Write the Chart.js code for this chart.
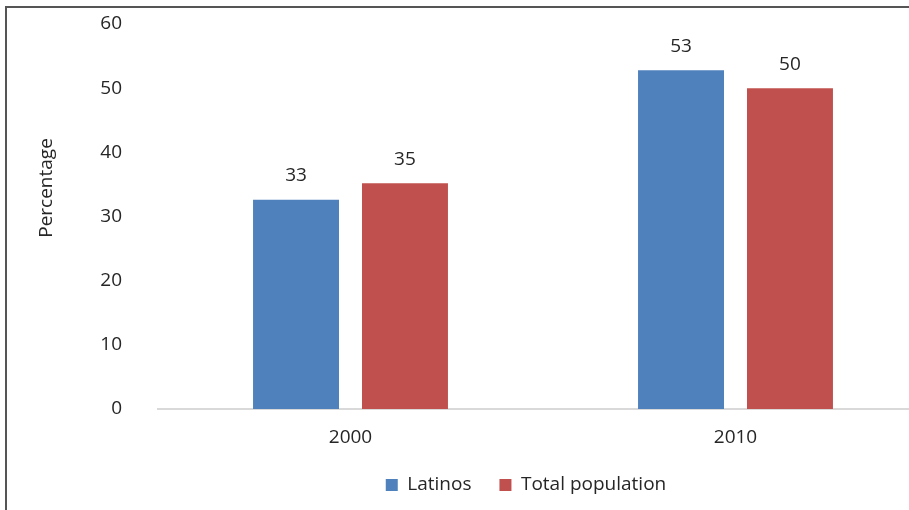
<!DOCTYPE html>
<html>
<head>
<meta charset="utf-8">
<script src="https://cdn.jsdelivr.net/npm/chart.js@4"></script>
<style>
  html, body { margin: 0; padding: 0; background: #fff; }
  #wrap { position: relative; width: 909px; height: 510px; overflow: hidden; }
  #frame { position: absolute; left: 5px; top: 6px; width: 1200px; height: 1200px;
           border-left: 2px solid #555; border-top: 2px solid #555; box-sizing: border-box; }
  #box { position: absolute; left: 0; top: 0; width: 960px; height: 510px; }
</style>
</head>
<body>
<div id="wrap">
  <div id="frame"></div>
  <div id="box"><canvas id="chart"></canvas></div>
</div>
<script>
// Chart data
const years = ['2000', '2010'];
const latinos = [32.6, 52.8];
const totalPopulation = [35.2, 50.0];
const yTicks = [0, 10, 20, 30, 40, 50, 60];
const yTitle = 'Percentage';

const FONT = '"Open Sans", "Noto Sans", sans-serif';
const TEXT = '#262626';

// Value labels above each bar + the y title (sits above the axis centre in the original)
const extraText = {
  id: 'extraText',
  afterDatasetsDraw(chart) {
    const ctx = chart.ctx;
    ctx.save();
    ctx.font = '19px ' + FONT;
    ctx.fillStyle = TEXT;
    ctx.textAlign = 'center';
    ctx.textBaseline = 'middle';
    chart.data.datasets.forEach((ds, i) => {
      chart.getDatasetMeta(i).data.forEach((bar, j) => {
        ctx.fillText(Math.round(ds.data[j]), bar.x, bar.y - 24);
      });
    });
    ctx.translate(47, 188);
    ctx.rotate(-Math.PI / 2);
    ctx.fillText(yTitle, 0, 0);
    ctx.restore();
  }
};

// Legend sits a bit right of the canvas centre and higher than the layout gives
const legendShift = {
  id: 'legendShift',
  afterLayout(chart) {
    chart.legend.left = 124;
    chart.legend.right = 928;
    chart.legend.top = 447.5;
  }
};

new Chart(document.getElementById('chart'), {
  type: 'bar',
  data: {
    labels: years,
    datasets: [
      { label: 'Latinos', data: latinos, backgroundColor: '#4f81bd',
        categoryPercentage: 0.566, barPercentage: 0.789 },
      { label: 'Total population', data: totalPopulation, backgroundColor: '#c0504d',
        categoryPercentage: 0.566, barPercentage: 0.789 }
    ]
  },
  options: {
    responsive: true,
    maintainAspectRatio: false,
    animation: false,
    layout: { padding: { top: 24, right: 32, bottom: -13, left: 0 } },
    plugins: {
      legend: {
        position: 'bottom',
        labels: {
          boxWidth: 12, boxHeight: 12, padding: 28,
          color: TEXT, font: { family: FONT, size: 19 }
        }
      },
      tooltip: { enabled: false }
    },
    scales: {
      x: {
        grid: { display: false, drawTicks: false },
        border: { display: true, color: '#d9d9d9', width: 2 },
        ticks: { color: TEXT, font: { family: FONT, size: 19 }, padding: 17 },
        afterFit(scale) { scale.height = 57; }
      },
      y: {
        min: 0, max: 60,
        afterBuildTicks(scale) { scale.ticks = yTicks.map(v => ({ value: v })); },
        grid: { display: false, drawTicks: false },
        border: { display: false },
        ticks: { color: TEXT, font: { family: FONT, size: 19 }, padding: 36 },
        afterFit(scale) {
          scale.width = 158;
          scale.paddingTop = 0;
          scale.paddingBottom = 0;
        }
      }
    }
  },
  plugins: [extraText, legendShift]
});
</script>
</body>
</html>
